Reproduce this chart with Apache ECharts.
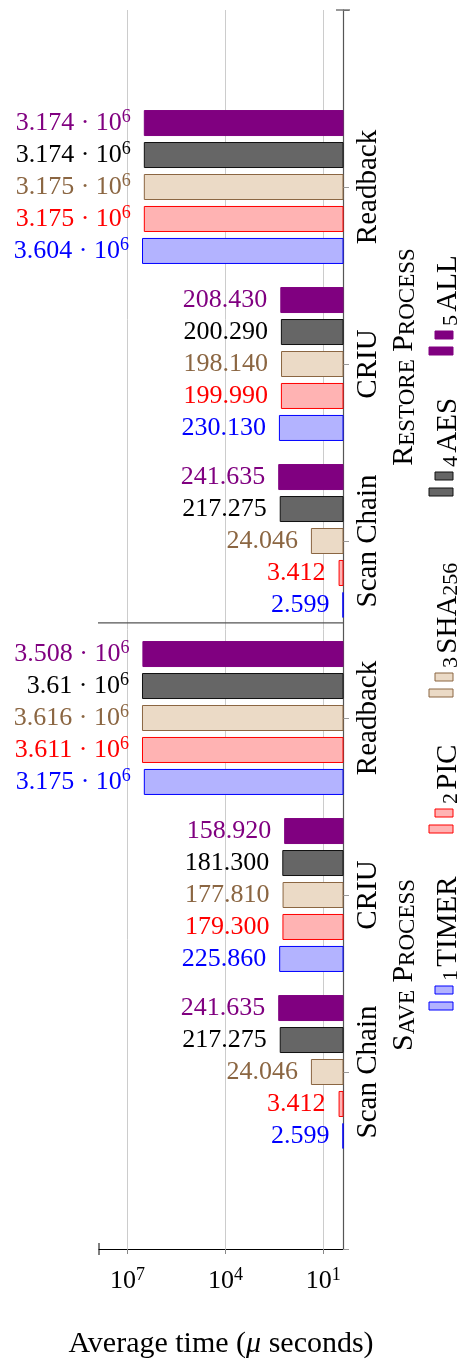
<!DOCTYPE html>
<html><head><meta charset="utf-8">
<script src="https://cdn.jsdelivr.net/npm/echarts@6/dist/echarts.min.js"></script>
<style>html,body{margin:0;padding:0;background:#fff}#c{width:462px;height:1359px}</style>
</head><body><div id="c"></div>
<script>
// ---- data ----
const categories = ['', 'Readback', 'CRIU', 'Scan Chain', 'Readback', 'CRIU', 'Scan Chain', ''];
const processLabels = ['Restore Process', 'Save Process'];
const seriesNames = ['5 ALL', '4 AES', '3 SHA256', '2 PIC', '1 TIMER'];
const allVals    = [null, 3.174e6, 208.430, 241.635, 3.508e6, 158.920, 241.635, null];
const aesVals    = [null, 3.174e6, 200.290, 217.275, 3.61e6,  181.300, 217.275, null];
const sha256Vals = [null, 3.175e6, 198.140, 24.046,  3.616e6, 177.810, 24.046,  null];
const picVals    = [null, 3.175e6, 199.990, 3.412,   3.611e6, 179.300, 3.412,   null];
const timerVals  = [null, 3.604e6, 230.130, 2.599,   3.175e6, 225.860, 2.599,   null];
const xTickValues = [1e7, 1e4, 1e1];
const axisTitle = 'Average time ({i|μ} seconds)';

// ---- styles ----
const F = "'Liberation Serif','Times New Roman',serif";
const styles = [
  {fill: '#800080', border: '#800080', text: '#800080'},
  {fill: '#666666', border: '#111111', text: '#000000'},
  {fill: '#EBDAC6', border: '#8B6642', text: '#8B6642'},
  {fill: '#FFB3B3', border: '#FF0000', text: '#FF0000'},
  {fill: '#B3B3FF', border: '#0000FF', text: '#0000FF'}
];
const values = [allVals, aesVals, sha256Vals, picVals, timerVals];
const X_MIN = 2.5, X_MAX = 7.5e7;

function fmtVal(v) {
  if (v >= 1e5) {
    const e = Math.floor(Math.log10(v));
    const m = (v / Math.pow(10, e)).toFixed(3).replace(/0+$/, '').replace(/\.$/, '');
    return '{m|' + m + ' · 10}{s|' + e + '}';
  }
  return '{m|' + v.toFixed(3) + '}';
}

const chart = echarts.init(document.getElementById('c'), null, {renderer: 'canvas'});

const series = values.map((vals, i) => ({
  type: 'bar',
  name: seriesNames[i],
  data: vals,
  barWidth: 26,
  barGap: '23%',
  itemStyle: {color: styles[i].fill, borderColor: styles[i].border, borderWidth: 1},
  label: {
    show: true,
    position: 'left',
    distance: 13,
    formatter: p => fmtVal(p.value),
    rich: {
      m: {fontFamily: F, fontSize: 26, color: styles[i].text, lineHeight: 30},
      s: {fontFamily: F, fontSize: 18, color: styles[i].text, lineHeight: 16, verticalAlign: 'top'}
    }
  },
  emphasis: {disabled: true},
  animation: false
}));

chart.setOption({
  animation: false,
  grid: {left: 99, right: 119, top: 10, bottom: 110, containLabel: false, outerBoundsMode: 'none'},
  xAxis: {
    type: 'log', inverse: true, min: X_MIN, max: X_MAX, position: 'bottom',
    axisLine: {show: true, onZero: false, lineStyle: {color: '#000', width: 1}},
    axisTick: {show: true, customValues: xTickValues, length: 5, lineStyle: {color: '#888'}},
    axisLabel: {
      customValues: xTickValues, margin: 17,
      formatter: v => '{m|10}{s|' + Math.round(Math.log10(v)) + '}',
      rich: {
        m: {fontFamily: F, fontSize: 26, color: '#000', lineHeight: 30},
        s: {fontFamily: F, fontSize: 18, color: '#000', lineHeight: 16, verticalAlign: 'top'}
      }
    },
    splitLine: {show: true, lineStyle: {color: '#cccccc', width: 1}},
    minorTick: {show: false}, minorSplitLine: {show: false},
    name: axisTitle, nameLocation: 'middle', nameGap: 80,
    nameTextStyle: {fontFamily: F, fontSize: 30, color: '#000',
      rich: {i: {fontFamily: F, fontSize: 30, fontStyle: 'italic', color: '#000'}}}
  },
  yAxis: {
    type: 'category', data: categories, inverse: true, position: 'right', boundaryGap: false,
    axisLine: {show: true, onZero: false, lineStyle: {color: '#555', width: 1.2}},
    axisTick: {show: true, interval: 0, length: 6, lineStyle: {color: '#999'}},
    axisLabel: {interval: 0, rotate: 90, margin: 11, fontFamily: F, fontSize: 29, color: '#000'},
    splitLine: {show: false}
  },
  series: series
});

// ---- decorations: separator, axis caps, process labels, legend ----
const SEP_POS = 3.463;
const yTop = chart.convertToPixel({yAxisIndex: 0}, 0);
const yBot = chart.convertToPixel({yAxisIndex: 0}, categories.length - 1);
const yA = chart.convertToPixel({yAxisIndex: 0}, 3);
const yB = chart.convertToPixel({yAxisIndex: 0}, 4);
const ySep = yA + (yB - yA) * (SEP_POS - 3);
const xL = chart.convertToPixel({xAxisIndex: 0}, X_MAX);
const xR = chart.convertToPixel({xAxisIndex: 0}, X_MIN);

function smallCaps(str) {
  return str.split(' ').map(w => '{b|' + w[0] + '}{s|' + w.slice(1).toUpperCase() + '}').join('{b| }');
}
const scRich = {
  b: {fontFamily: F, fontSize: 30, color: '#000', lineHeight: 32, verticalAlign: 'bottom'},
  s: {fontFamily: F, fontSize: 23, color: '#000', lineHeight: 28, verticalAlign: 'bottom'}
};
const graphics = [
  {type: 'line', shape: {x1: xL - 1, y1: ySep, x2: xR, y2: ySep}, style: {stroke: '#555', lineWidth: 1.2}, z: 10},
  {type: 'line', shape: {x1: xR - 7, y1: yTop, x2: xR + 7, y2: yTop}, style: {stroke: '#555', lineWidth: 1.2}, z: 10},
  {type: 'line', shape: {x1: xL, y1: yBot - 6, x2: xL, y2: yBot + 6}, style: {stroke: '#000', lineWidth: 1}, z: 10}
];
const procPos = [[403, 357], [403, 965]];
processLabels.forEach((t, i) => {
  graphics.push({type: 'text', x: procPos[i][0], y: procPos[i][1], rotation: Math.PI / 2,
    style: {text: smallCaps(t), rich: scRich, textAlign: 'center', textVerticalAlign: 'middle'}});
});
// legend: icon bottom y per entry (order ALL, AES, SHA256, PIC, TIMER)
const legendIconBottom = [355, 496, 697, 833, 1010];
const legRich = {
  n: {fontFamily: F, fontSize: 22, color: '#000', lineHeight: 28, verticalAlign: 'bottom'},
  t: {fontFamily: F, fontSize: 29, color: '#000', lineHeight: 31, verticalAlign: 'bottom'},
  u: {fontFamily: F, fontSize: 22, color: '#000', lineHeight: 28, verticalAlign: 'bottom'}
};
seriesNames.forEach((name, i) => {
  const yb = legendIconBottom[i];
  const st = styles[i];
  graphics.push({type: 'rect', shape: {x: 429, y: yb - 8, width: 24, height: 8}, style: {fill: st.fill, stroke: st.border, lineWidth: 1}});
  graphics.push({type: 'rect', shape: {x: 435, y: yb - 24, width: 18, height: 8}, style: {fill: st.fill, stroke: st.border, lineWidth: 1}});
  const parts = name.split(' ');
  const m = parts[1].match(/^([A-Z]+)(\d*)$/);
  const txt = '{n|' + parts[0] + '} {t|' + m[1] + '}' + (m[2] ? '{u|' + m[2] + '}' : '');
  graphics.push({type: 'text', x: 447, y: yb - 29, rotation: Math.PI / 2,
    style: {text: txt, rich: legRich, textAlign: 'left', textVerticalAlign: 'middle'}});
});
chart.setOption({graphic: graphics});
</script>
</body></html>
